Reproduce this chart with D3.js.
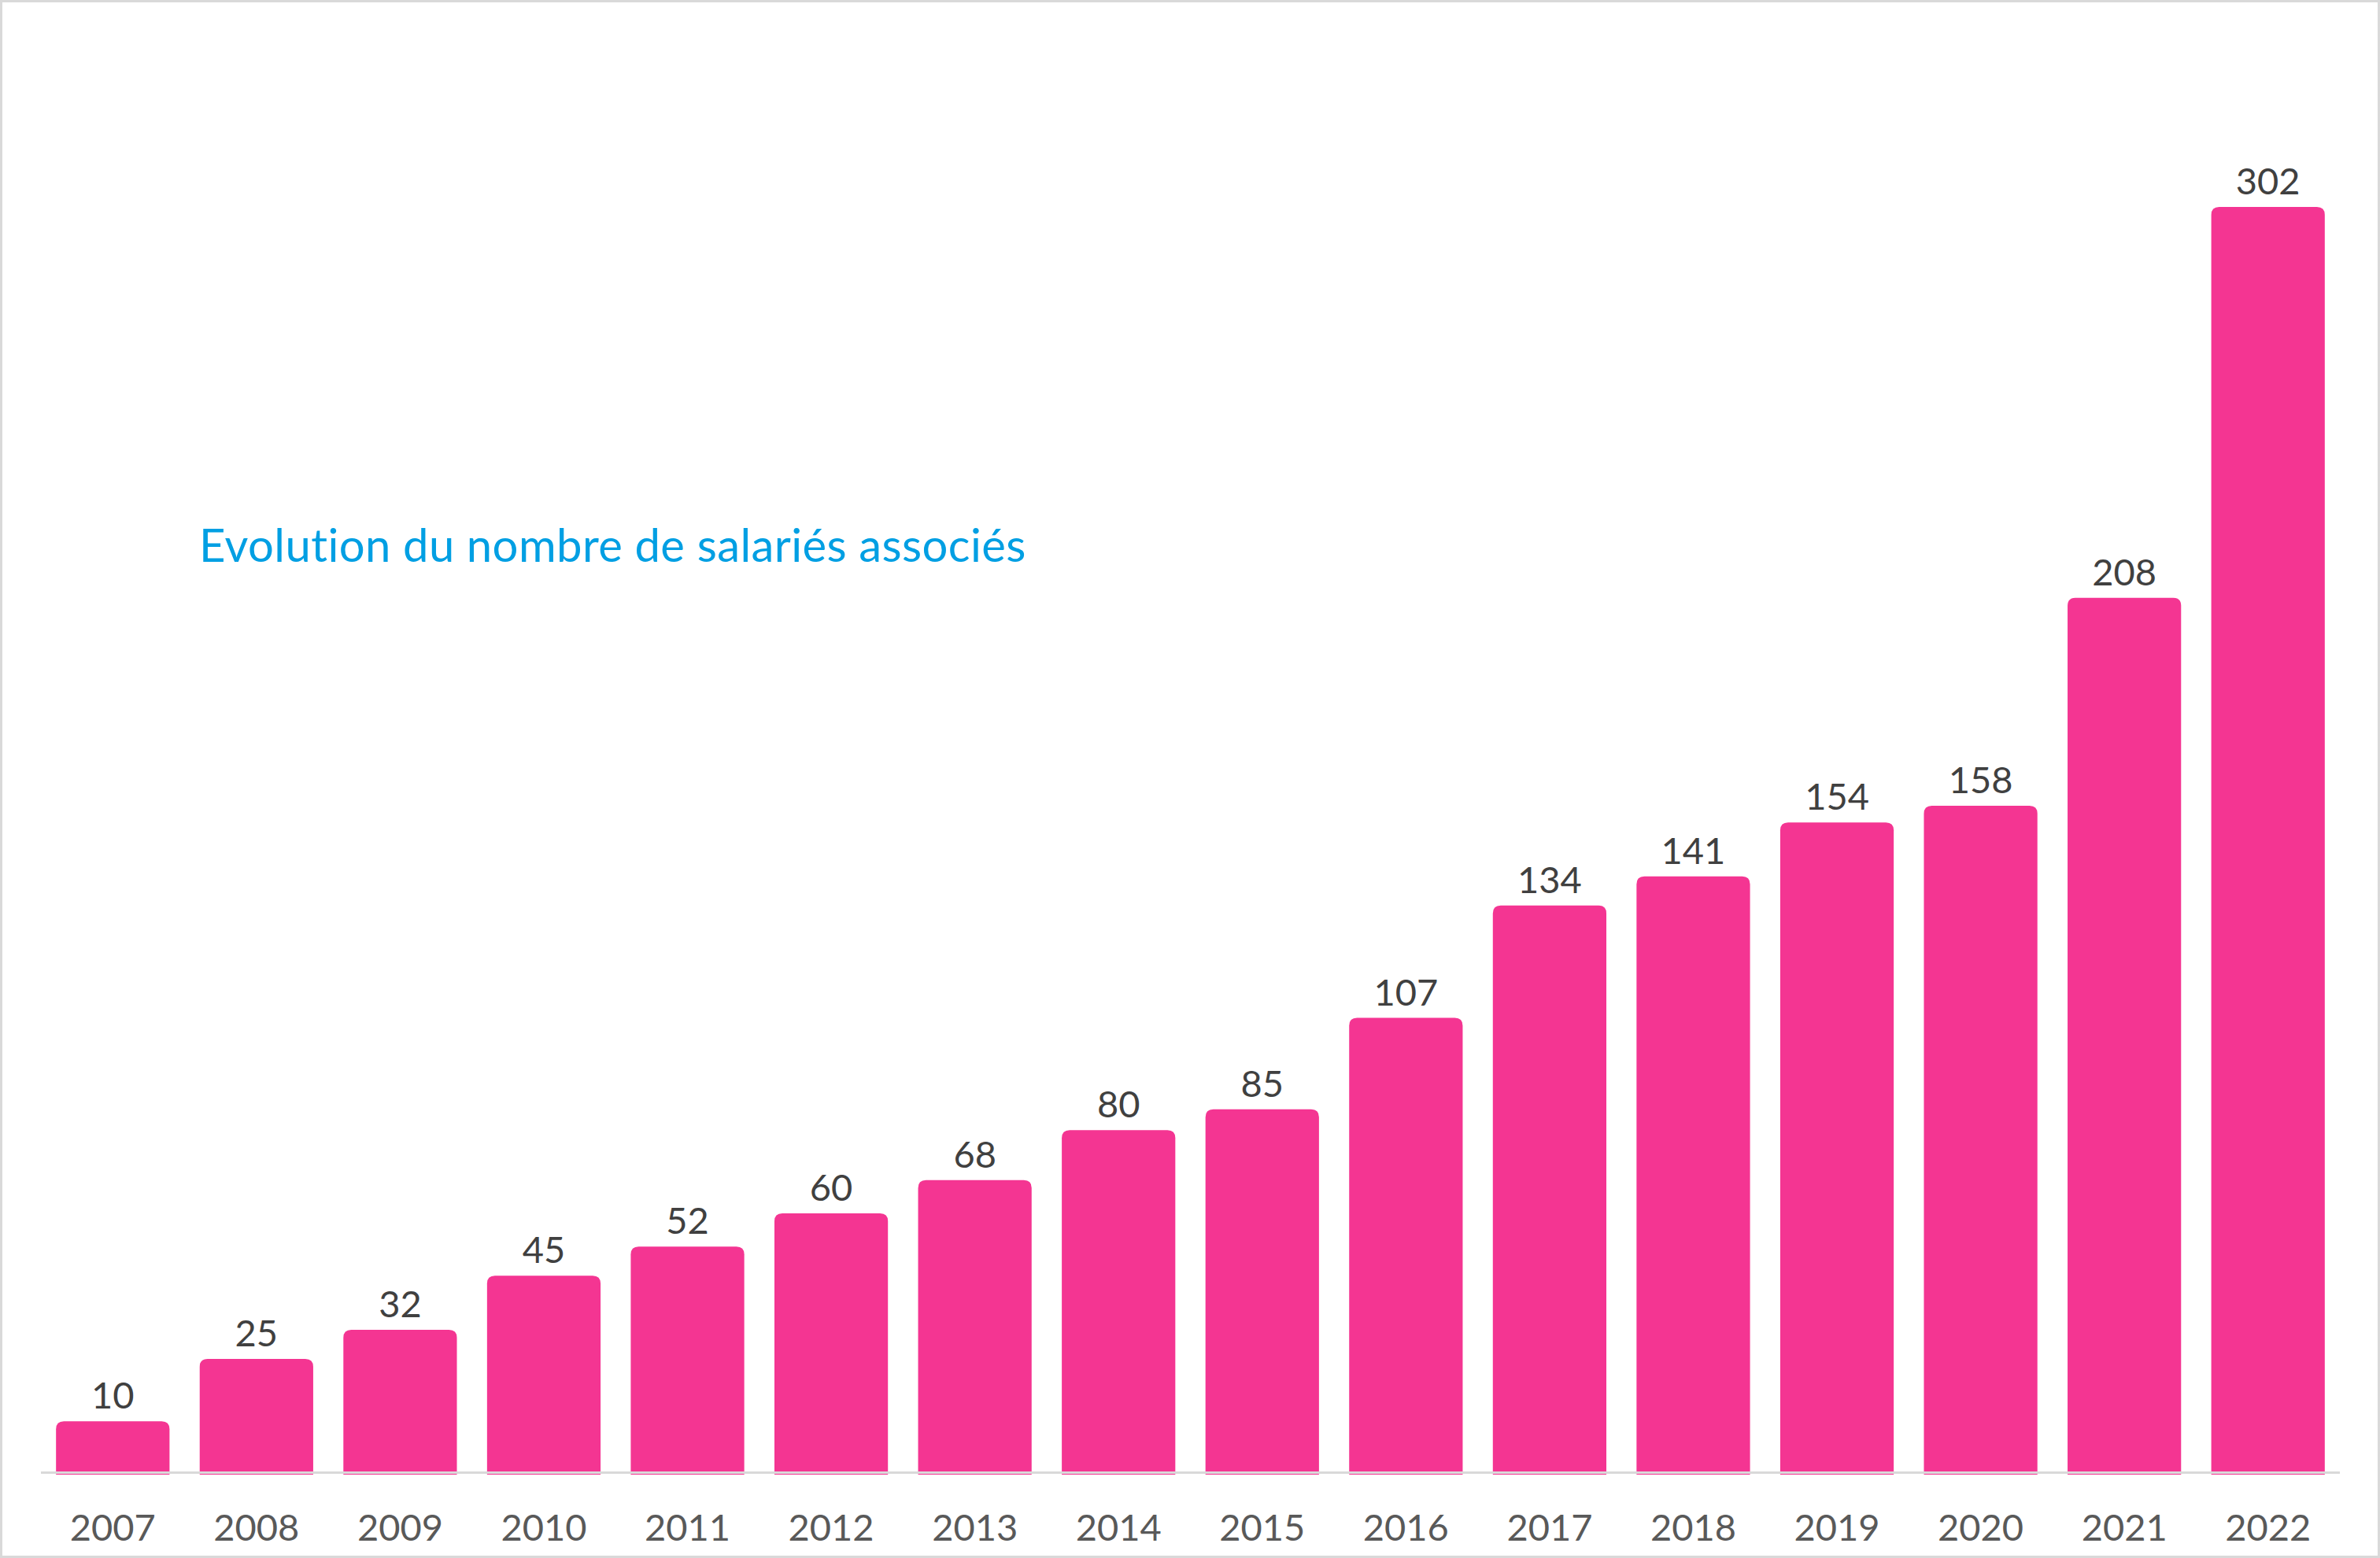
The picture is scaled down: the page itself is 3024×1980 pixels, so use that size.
<!DOCTYPE html>
<html>
<head>
<meta charset="utf-8">
<script src="https://cdn.jsdelivr.net/npm/d3@7"></script>
<style>
  html, body { margin: 0; padding: 0; background: #fff; }
  svg { display: block; }
  text { font-variant-ligatures: none; }
</style>
</head>
<body>
<svg id="chart" width="3024" height="1980"></svg>
<script>
const years = ["2007","2008","2009","2010","2011","2012","2013","2014","2015","2016","2017","2018","2019","2020","2021","2022"];
const values = [10, 25, 32, 45, 52, 60, 68, 80, 85, 107, 134, 141, 154, 158, 208, 302];
const title = "Evolution du nombre de salariés associés";

const W = 3024, H = 1980;
const svg = d3.select("#chart");

// outer frame
svg.append("rect")
  .attr("x", 1.5).attr("y", 1.5)
  .attr("width", W - 3).attr("height", H - 3)
  .attr("fill", "#fff")
  .attr("stroke", "#D9D9D9").attr("stroke-width", 3);

const x = d3.scaleBand()
  .domain(years)
  .range([52, 2973])
  .paddingInner(0.21)
  .paddingOuter(0.105);

const y = d3.scaleLinear()
  .domain([0, 302])
  .range([1859, 263]);

const barBottom = 1874;
const axisY = 1871.5;
const r = 10;

function barPath(x0, w, yt, yb) {
  return `M${x0},${yb}V${yt + r}Q${x0},${yt} ${x0 + r},${yt}H${x0 + w - r}Q${x0 + w},${yt} ${x0 + w},${yt + r}V${yb}Z`;
}

const data = years.map((yr, i) => ({ year: yr, value: values[i] }));

svg.append("g")
  .selectAll("path")
  .data(data)
  .join("path")
  .attr("d", d => barPath(x(d.year), x.bandwidth(), y(d.value), barBottom))
  .attr("fill", "#F43592");

// axis line
svg.append("line")
  .attr("x1", x.range()[0]).attr("x2", x.range()[1])
  .attr("y1", axisY).attr("y2", axisY)
  .attr("stroke", "#D9D9D9").attr("stroke-width", 3);

// category labels
const xAxis = d3.axisBottom(x).tickSize(0).tickPadding(0);
const gx = svg.append("g").attr("transform", `translate(0,${axisY})`).call(xAxis);
gx.select(".domain").remove();
gx.selectAll("text")
  .attr("y", 86.5)
  .attr("dy", null)
  .attr("font-family", "Lato, sans-serif")
  .attr("font-size", 47)
  .attr("fill", "#595959");

// value labels
svg.append("g")
  .selectAll("text")
  .data(data)
  .join("text")
  .attr("x", d => x(d.year) + x.bandwidth() / 2)
  .attr("y", d => y(d.value) - 16)
  .attr("text-anchor", "middle")
  .attr("font-family", "Lato, sans-serif")
  .attr("font-size", 47)
  .attr("fill", "#404040")
  .text(d => d.value);

// title
svg.append("text")
  .attr("x", 253)
  .attr("y", 714)
  .attr("font-family", "Lato, sans-serif")
  .attr("font-size", 58)
  .attr("letter-spacing", 0.4)
  .attr("fill", "#009FE3")
  .text(title);
</script>
</body>
</html>
